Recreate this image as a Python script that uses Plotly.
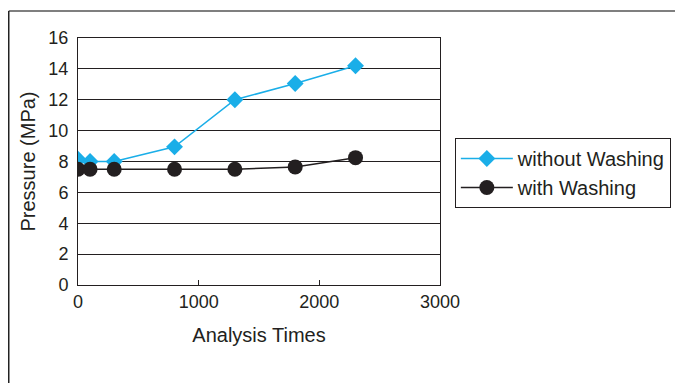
import plotly.graph_objects as go

analysis_times = [0, 100, 300, 800, 1300, 1800, 2300]
without_washing = [8.15, 8.0, 8.0, 8.95, 12.0, 13.05, 14.2]
with_washing = [7.5, 7.5, 7.5, 7.5, 7.5, 7.65, 8.25]

fig = go.Figure()
fig.add_trace(go.Scatter(x=analysis_times, y=without_washing, mode="lines+markers",
                         name="without Washing",
                         line=dict(color="#1aaee8", width=1.5),
                         marker=dict(symbol="diamond", size=13, color="#1aaee8")))
fig.add_trace(go.Scatter(x=analysis_times, y=with_washing, mode="lines+markers",
                         name="with Washing",
                         line=dict(color="#231f20", width=1.5),
                         marker=dict(symbol="circle", size=15, color="#231f20")))

font = "Liberation Sans, Arial, sans-serif"
fig.update_layout(
    width=675, height=375,
    margin=dict(l=70, r=243, t=30, b=98, autoexpand=False),
    paper_bgcolor="white", plot_bgcolor="white",
    font=dict(family=font, size=18, color="#231f20"),
    showlegend=True,
    legend=dict(x=1.041, y=0.595, xanchor="left", yanchor="top",
                bordercolor="#231f20", borderwidth=1, bgcolor="white",
                font=dict(size=20), tracegroupgap=0, itemwidth=52),
    xaxis=dict(range=[0, 3000], tickvals=[0, 1000, 2000, 3000], showgrid=False,
               zeroline=False, showline=True, linecolor="#231f20", linewidth=1,
               mirror=True, ticks="inside", ticklen=5, tickcolor="#231f20",
               automargin=False, tickfont=dict(size=18),
               title=dict(text="Analysis Times", font=dict(size=20), standoff=17)),
    yaxis=dict(range=[0, 16], dtick=2, showgrid=True, gridcolor="#231f20", gridwidth=1,
               zeroline=False, showline=True, linecolor="#231f20", linewidth=1,
               mirror=True, ticks="", automargin=False, tickfont=dict(size=18),
               ticklabelstandoff=5,
               title=dict(text="Pressure (MPa)", font=dict(size=20), standoff=7)),
)

# outer frame (top and left edges)
fig.add_shape(type="line", xref="paper", yref="paper", x0=-0.1913, x1=1.7, y0=1.109, y1=1.109,
              line=dict(color="#7f7f7f", width=2))
fig.add_shape(type="line", xref="paper", yref="paper", x0=-0.1913, x1=-0.1913, y0=1.109, y1=-0.5,
              line=dict(color="#222222", width=1.5))

fig.write_html("out.html")
